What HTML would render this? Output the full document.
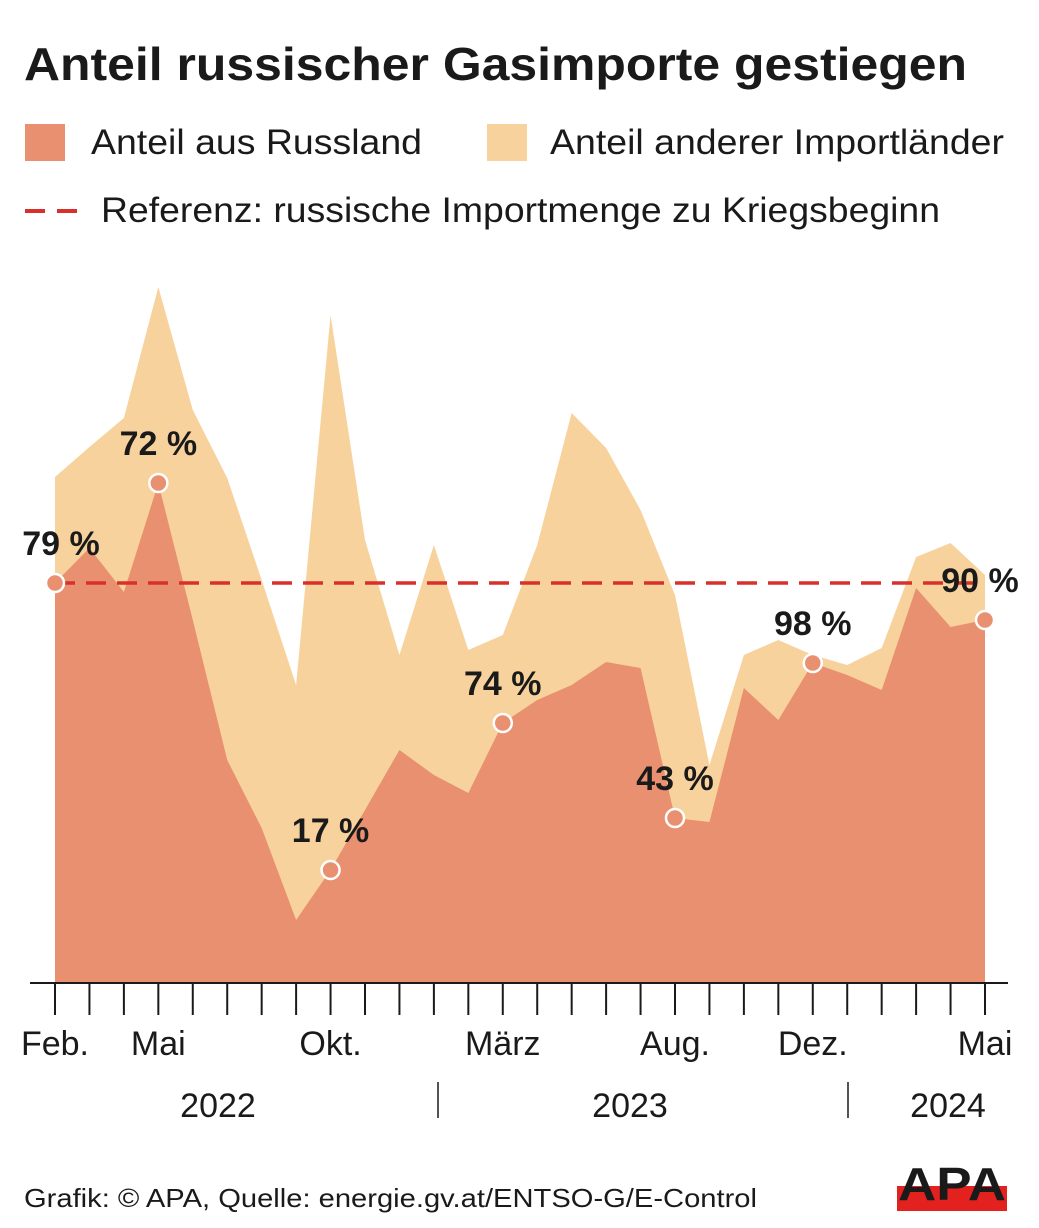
<!DOCTYPE html>
<html><head><meta charset="utf-8">
<style>
body{margin:0;background:#fff;font-family:"Liberation Sans",Arial,sans-serif;}
svg{display:block}
</style></head>
<body>
<svg id="chart" width="1039" height="1228" viewBox="0 0 1039 1228" xmlns="http://www.w3.org/2000/svg">
<text x="24" y="80" font-size="46" font-weight="bold" fill="#1a1a1a" textLength="943" lengthAdjust="spacingAndGlyphs">Anteil russischer Gasimporte gestiegen</text>
<g>
<rect x="25" y="124" width="40" height="37" fill="#E8906F"/>
<text x="91" y="154" font-size="35" fill="#1a1a1a" textLength="331" lengthAdjust="spacingAndGlyphs">Anteil aus Russland</text>
<rect x="487" y="124" width="40" height="37" fill="#F8D29D"/>
<text x="550" y="154" font-size="35" fill="#1a1a1a" textLength="454" lengthAdjust="spacingAndGlyphs">Anteil anderer Importländer</text>
<line x1="25" y1="211" x2="85" y2="211" stroke="#D9302B" stroke-width="4" stroke-dasharray="20,12"/>
<text x="101" y="222" font-size="35" fill="#1a1a1a" textLength="839" lengthAdjust="spacingAndGlyphs">Referenz: russische Importmenge zu Kriegsbeginn</text>
</g>
<g id="plot"></g>
<text x="24" y="1207" font-size="26" fill="#1a1a1a" textLength="733" lengthAdjust="spacingAndGlyphs">Grafik: © APA, Quelle: energie.gv.at/ENTSO-G/E-Control</text>
<g>
<rect x="897" y="1186" width="110" height="25" fill="#E3211E"/>
<text x="952" y="1200" font-size="46" font-weight="bold" text-anchor="middle" fill="#1a1a1a" textLength="108" lengthAdjust="spacingAndGlyphs">APA</text>
</g>
</svg>
<script>
const months = ["Feb.","","","Mai","","","","","Okt.","","","","","März","","","","","Aug.","","","","Dez.","","","","","Mai"];
const totalImports = [50.6,53.6,56.5,69.6,57.3,50.5,40.3,29.8,66.8,44.3,32.8,43.8,33.3,34.8,43.8,57.0,53.5,47.3,38.8,21.8,32.8,34.3,32.8,31.8,33.5,42.6,44.0,40.8];
const russiaImports = [40.0,43.5,39.1,50.0,36.3,22.3,15.5,6.3,11.3,17.3,23.3,20.8,19.0,26.0,28.3,29.8,32.1,31.5,16.5,16.1,29.5,26.3,32.0,30.8,29.3,39.5,35.6,36.3];
const referenceValue = 40.0;
const labelIndices = [0,3,8,13,18,22,27];
const labelTexts = ["79 %","72 %","17 %","74 %","43 %","98 %","90 %"];
const years = ["2022","2023","2024"];

const NS="http://www.w3.org/2000/svg";
const g=document.getElementById('plot');
const x0=55,x1=985,yBase=983,pxPerUnit=10;
const xs=i=>x0+i*(x1-x0)/(months.length-1);
const ys=v=>yBase-v*pxPerUnit;
function mk(tag,attrs){const e=document.createElementNS(NS,tag);for(const k in attrs)e.setAttribute(k,attrs[k]);g.appendChild(e);return e;}
function areaPath(arr){let d=`M${xs(0)},${yBase}`;arr.forEach((v,i)=>d+=` L${xs(i)},${ys(v)}`);d+=` L${xs(arr.length-1)},${yBase} Z`;return d;}
const a1=mk('path',{d:areaPath(totalImports),fill:'#F8D29D'});


const a2=mk('path',{d:areaPath(russiaImports),fill:'#E8906F'});


const ref=mk('line',{x1:xs(0),x2:xs(months.length-1),y1:ys(referenceValue),y2:ys(referenceValue),stroke:'#D9302B','stroke-width':3.5,'stroke-dasharray':'20,11'});


const ax=mk('line',{x1:30,x2:1008,y1:yBase,y2:yBase,stroke:'#1a1a1a','stroke-width':2});


months.forEach((m,i)=>{
 const t=mk('line',{x1:xs(i),x2:xs(i),y1:yBase,y2:1015,stroke:'#1a1a1a','stroke-width':2});
 
 
 if(m){
  const tl=mk('text',{x:xs(i),y:1055,'font-size':34,'text-anchor':'middle',fill:'#1a1a1a'});
  tl.textContent=m;
  
  
 }
});
const yearX=[218,630,948];
years.forEach((y,i)=>{
 const t=mk('text',{x:yearX[i],y:1117,'font-size':34,'text-anchor':'middle',fill:'#1a1a1a'});
 t.textContent=y;
 
 
});
[438,848].forEach(x=>{
 const s=mk('line',{x1:x,x2:x,y1:1082,y2:1118,stroke:'#1a1a1a','stroke-width':1.5});
 
 
});
labelIndices.forEach((idx,k)=>{
 const c=mk('circle',{cx:xs(idx),cy:ys(russiaImports[idx]),r:9,fill:'#E8906F',stroke:'#fff','stroke-width':2.5});
 
 
 let lx=xs(idx);if(idx===0)lx+=6;if(idx===months.length-1)lx-=5;
 const t=mk('text',{x:lx,y:ys(russiaImports[idx])-28,'font-size':34,'font-weight':'bold','text-anchor':'middle',fill:'#1a1a1a'});
 t.textContent=labelTexts[k];
 
 
});
</script>
</body></html>
